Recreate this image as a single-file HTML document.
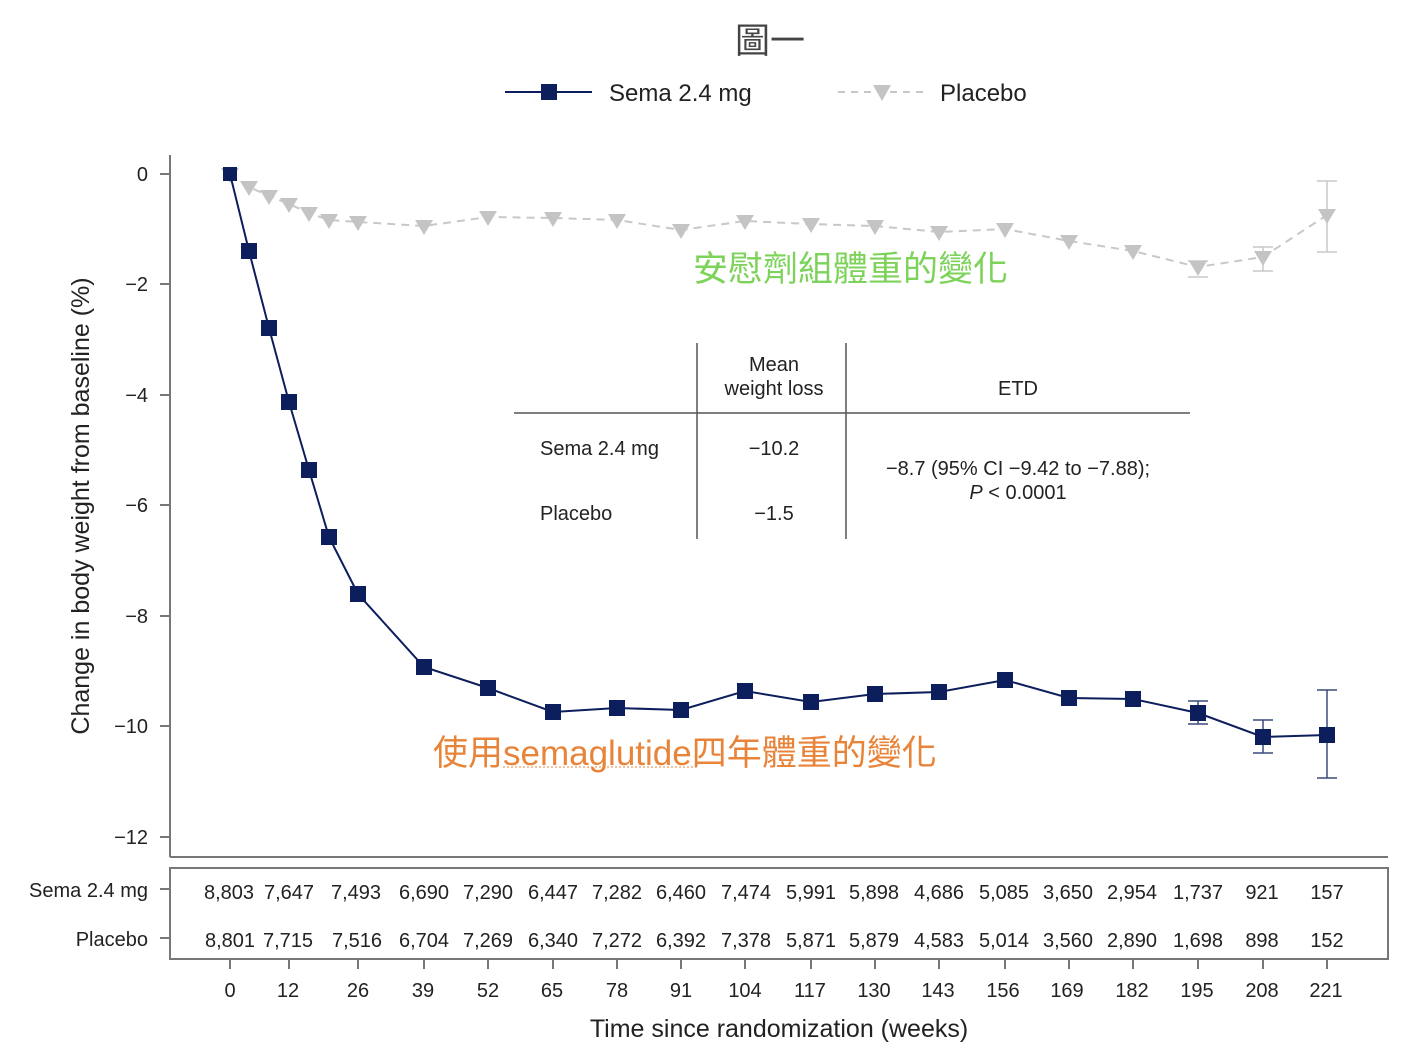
<!DOCTYPE html>
<html><head><meta charset="utf-8"><style>
html,body{margin:0;padding:0;background:#fff;}
svg{display:block;font-family:"Liberation Sans","Noto Sans CJK TC",sans-serif;}
</style></head><body>
<svg width="1415" height="1062" viewBox="0 0 1415 1062" xmlns="http://www.w3.org/2000/svg">
<rect width="1415" height="1062" fill="#fff"/>
<text x="770" y="53" font-size="35" text-anchor="middle" fill="#444">圖一</text>
<!-- legend -->
<line x1="505" y1="92" x2="592" y2="92" stroke="#0d1e5c" stroke-width="2"/>
<rect x="541" y="84" width="16" height="16" fill="#0d1e5c"/>
<text x="609" y="101" font-size="24" fill="#222">Sema 2.4 mg</text>
<line x1="838" y1="92" x2="928" y2="92" stroke="#c8c8c8" stroke-width="2" stroke-dasharray="7,6"/>
<polygon points="873,85 891,85 882,101" fill="#c4c4c4"/>
<text x="940" y="101" font-size="24" fill="#222">Placebo</text>
<!-- axes -->
<g stroke="#777" stroke-width="2" fill="none">
<line x1="170" y1="155" x2="170" y2="857"/>
<line x1="170" y1="857" x2="1388" y2="857"/>
<rect x="170" y="868" width="1218" height="91"/>
<line x1="160" y1="174" x2="170" y2="174"/><line x1="160" y1="284" x2="170" y2="284"/>
<line x1="160" y1="395" x2="170" y2="395"/><line x1="160" y1="505" x2="170" y2="505"/>
<line x1="160" y1="616" x2="170" y2="616"/><line x1="160" y1="726" x2="170" y2="726"/>
<line x1="160" y1="837" x2="170" y2="837"/>
<line x1="160" y1="889" x2="170" y2="889"/><line x1="160" y1="938" x2="170" y2="938"/>
</g>
<g font-size="20" fill="#222" text-anchor="end">
<text x="148" y="181">0</text><text x="148" y="291">−2</text><text x="148" y="402">−4</text>
<text x="148" y="512">−6</text><text x="148" y="623">−8</text><text x="148" y="733">−10</text><text x="148" y="844">−12</text>
<text x="148" y="897">Sema 2.4 mg</text><text x="148" y="946">Placebo</text>
</g>
<text transform="translate(89,506) rotate(-90)" font-size="25" text-anchor="middle" fill="#222">Change in body weight from baseline (%)</text>
<g stroke="#777" stroke-width="2">
<line x1="230" y1="959" x2="230" y2="969"/><line x1="289" y1="959" x2="289" y2="969"/><line x1="358" y1="959" x2="358" y2="969"/><line x1="424" y1="959" x2="424" y2="969"/><line x1="488" y1="959" x2="488" y2="969"/><line x1="553" y1="959" x2="553" y2="969"/><line x1="617" y1="959" x2="617" y2="969"/><line x1="681" y1="959" x2="681" y2="969"/><line x1="745" y1="959" x2="745" y2="969"/><line x1="811" y1="959" x2="811" y2="969"/><line x1="875" y1="959" x2="875" y2="969"/><line x1="939" y1="959" x2="939" y2="969"/><line x1="1005" y1="959" x2="1005" y2="969"/><line x1="1069" y1="959" x2="1069" y2="969"/><line x1="1133" y1="959" x2="1133" y2="969"/><line x1="1198" y1="959" x2="1198" y2="969"/><line x1="1263" y1="959" x2="1263" y2="969"/><line x1="1327" y1="959" x2="1327" y2="969"/>
</g>
<g font-size="20" fill="#222" text-anchor="middle">
<text x="230" y="997">0</text><text x="288" y="997">12</text><text x="358" y="997">26</text><text x="423" y="997">39</text><text x="488" y="997">52</text><text x="552" y="997">65</text><text x="617" y="997">78</text><text x="681" y="997">91</text><text x="745" y="997">104</text><text x="810" y="997">117</text><text x="874" y="997">130</text><text x="938" y="997">143</text><text x="1003" y="997">156</text><text x="1067" y="997">169</text><text x="1132" y="997">182</text><text x="1197" y="997">195</text><text x="1262" y="997">208</text><text x="1326" y="997">221</text>
<text x="229" y="899">8,803</text><text x="289" y="899">7,647</text><text x="356" y="899">7,493</text><text x="424" y="899">6,690</text><text x="488" y="899">7,290</text><text x="553" y="899">6,447</text><text x="617" y="899">7,282</text><text x="681" y="899">6,460</text><text x="746" y="899">7,474</text><text x="811" y="899">5,991</text><text x="874" y="899">5,898</text><text x="939" y="899">4,686</text><text x="1004" y="899">5,085</text><text x="1068" y="899">3,650</text><text x="1132" y="899">2,954</text><text x="1198" y="899">1,737</text><text x="1262" y="899">921</text><text x="1327" y="899">157</text>
<text x="230" y="947">8,801</text><text x="288" y="947">7,715</text><text x="357" y="947">7,516</text><text x="424" y="947">6,704</text><text x="488" y="947">7,269</text><text x="553" y="947">6,340</text><text x="617" y="947">7,272</text><text x="681" y="947">6,392</text><text x="746" y="947">7,378</text><text x="811" y="947">5,871</text><text x="874" y="947">5,879</text><text x="939" y="947">4,583</text><text x="1004" y="947">5,014</text><text x="1068" y="947">3,560</text><text x="1132" y="947">2,890</text><text x="1198" y="947">1,698</text><text x="1262" y="947">898</text><text x="1327" y="947">152</text>
</g>
<text x="779" y="1037" font-size="25" text-anchor="middle" fill="#222">Time since randomization (weeks)</text>
<!-- placebo -->
<g stroke="#c8c8c8" stroke-width="1.5">
<line x1="1327" y1="181" x2="1327" y2="252"/><line x1="1317" y1="181" x2="1337" y2="181"/><line x1="1317" y1="252" x2="1337" y2="252"/>
<line x1="1263" y1="247" x2="1263" y2="271"/><line x1="1253" y1="247" x2="1273" y2="247"/><line x1="1253" y1="271" x2="1273" y2="271"/>
<line x1="1188" y1="261" x2="1208" y2="261"/><line x1="1188" y1="277" x2="1208" y2="277"/>
</g>
<polyline fill="none" stroke="#c8c8c8" stroke-width="2" stroke-dasharray="8,6" points="230,174 249,187 269,196 289,204 309,213 329,220 358,222 424,226 488,217 553,218 617,220 681,230 745,221 811,224 875,226 939,232 1005,229 1069,241 1133,251 1198,267 1263,257 1327,215"/>
<g fill="#c4c4c4">
<path d="M-9,-6H9L0,9Z" transform="translate(230,174)"/><path d="M-9,-6H9L0,9Z" transform="translate(249,187)"/><path d="M-9,-6H9L0,9Z" transform="translate(269,196)"/><path d="M-9,-6H9L0,9Z" transform="translate(289,204)"/><path d="M-9,-6H9L0,9Z" transform="translate(309,213)"/><path d="M-9,-6H9L0,9Z" transform="translate(329,220)"/><path d="M-9,-6H9L0,9Z" transform="translate(358,222)"/><path d="M-9,-6H9L0,9Z" transform="translate(424,226)"/><path d="M-9,-6H9L0,9Z" transform="translate(488,217)"/><path d="M-9,-6H9L0,9Z" transform="translate(553,218)"/><path d="M-9,-6H9L0,9Z" transform="translate(617,220)"/><path d="M-9,-6H9L0,9Z" transform="translate(681,230)"/><path d="M-9,-6H9L0,9Z" transform="translate(745,221)"/><path d="M-9,-6H9L0,9Z" transform="translate(811,224)"/><path d="M-9,-6H9L0,9Z" transform="translate(875,226)"/><path d="M-9,-6H9L0,9Z" transform="translate(939,232)"/><path d="M-9,-6H9L0,9Z" transform="translate(1005,229)"/><path d="M-9,-6H9L0,9Z" transform="translate(1069,241)"/><path d="M-9,-6H9L0,9Z" transform="translate(1133,251)"/><path d="M-9,-6H9L0,9Z" transform="translate(1198,267)"/><path d="M-9,-6H9L0,9Z" transform="translate(1263,257)"/><path d="M-9,-6H9L0,9Z" transform="translate(1327,215)"/>
</g>
<!-- sema -->
<g stroke="#3a4a7a" stroke-width="1.5">
<line x1="1327" y1="690" x2="1327" y2="778"/><line x1="1317" y1="690" x2="1337" y2="690"/><line x1="1317" y1="778" x2="1337" y2="778"/>
<line x1="1263" y1="720" x2="1263" y2="753"/><line x1="1253" y1="720" x2="1273" y2="720"/><line x1="1253" y1="753" x2="1273" y2="753"/>
<line x1="1198" y1="701" x2="1198" y2="724"/><line x1="1188" y1="701" x2="1208" y2="701"/><line x1="1188" y1="724" x2="1208" y2="724"/>
</g>
<polyline fill="none" stroke="#0d1e5c" stroke-width="2" points="230,174 249,251 269,328 289,402 309,470 329,537 358,594 424,667 488,688 553,712 617,708 681,710 745,691 811,702 875,694 939,692 1005,680 1069,698 1133,699 1198,713 1263,737 1327,735"/>
<g fill="#0d1e5c">
<rect x="223" y="167" width="14" height="14"/><rect x="241" y="243" width="16" height="16"/><rect x="261" y="320" width="16" height="16"/><rect x="281" y="394" width="16" height="16"/><rect x="301" y="462" width="16" height="16"/><rect x="321" y="529" width="16" height="16"/><rect x="350" y="586" width="16" height="16"/><rect x="416" y="659" width="16" height="16"/><rect x="480" y="680" width="16" height="16"/><rect x="545" y="704" width="16" height="16"/><rect x="609" y="700" width="16" height="16"/><rect x="673" y="702" width="16" height="16"/><rect x="737" y="683" width="16" height="16"/><rect x="803" y="694" width="16" height="16"/><rect x="867" y="686" width="16" height="16"/><rect x="931" y="684" width="16" height="16"/><rect x="997" y="672" width="16" height="16"/><rect x="1061" y="690" width="16" height="16"/><rect x="1125" y="691" width="16" height="16"/><rect x="1190" y="705" width="16" height="16"/><rect x="1255" y="729" width="16" height="16"/><rect x="1319" y="727" width="16" height="16"/>
</g>
<!-- inset table -->
<g stroke="#555" stroke-width="1.5">
<line x1="697" y1="343" x2="697" y2="539"/><line x1="846" y1="343" x2="846" y2="539"/>
<line x1="514" y1="413" x2="1190" y2="413"/>
</g>
<g font-size="20" fill="#222">
<text x="774" y="371" text-anchor="middle">Mean</text>
<text x="774" y="395" text-anchor="middle">weight loss</text>
<text x="1018" y="395" text-anchor="middle">ETD</text>
<text x="540" y="455">Sema 2.4 mg</text>
<text x="540" y="520">Placebo</text>
<text x="774" y="455" text-anchor="middle">−10.2</text>
<text x="774" y="520" text-anchor="middle">−1.5</text>
<text x="1018" y="475" text-anchor="middle">−8.7 (95% CI −9.42 to −7.88);</text>
<text x="1018" y="499" text-anchor="middle"><tspan font-style="italic">P</tspan> &lt; 0.0001</text>
</g>
<text x="693" y="281" font-size="35" fill="#7dd35a">安慰劑組體重的變化</text>
<text x="433" y="765" font-size="35" fill="#e8843a">使用semaglutide四年體重的變化</text>
<line x1="503" y1="767" x2="697" y2="767" stroke="#e8843a" stroke-width="1" stroke-dasharray="2,2"/>
</svg>
</body></html>
